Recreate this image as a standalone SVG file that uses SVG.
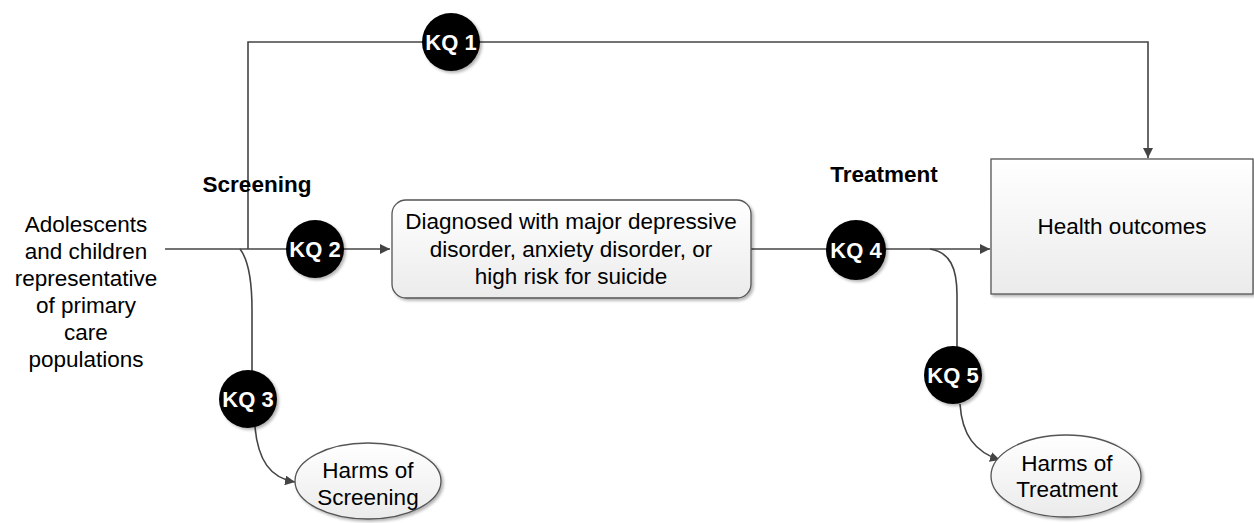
<svg xmlns="http://www.w3.org/2000/svg" width="1254" height="523" viewBox="0 0 1254 523">
<style>
  text { font-family: "Liberation Sans", Arial, sans-serif; fill: #000; }
  .t { font-size: 22.5px; text-anchor: middle; }
  .b { font-size: 22.5px; font-weight: bold; text-anchor: middle; }
  .kq { font-size: 22px; font-weight: bold; text-anchor: middle; fill: #fff; }
  .kqc { fill: #000; filter: url(#sh); }
  .box { stroke: #555; stroke-width: 1.3; fill: url(#g); filter: url(#sh); }
  .ell { stroke: #555; stroke-width: 1.3; fill: url(#g); filter: url(#sh); }
  .ln { fill: none; stroke: #444; stroke-width: 1.6; }
</style>
<defs>
  <linearGradient id="g" x1="0" y1="0" x2="0" y2="1">
    <stop offset="0" stop-color="#ffffff"/>
    <stop offset="1" stop-color="#ebebeb"/>
  </linearGradient>
  <filter id="sh" x="-20%" y="-20%" width="150%" height="150%">
    <feGaussianBlur in="SourceAlpha" stdDeviation="1.5"/>
    <feOffset dx="2" dy="2" result="o"/>
    <feComponentTransfer><feFuncA type="linear" slope="0.3"/></feComponentTransfer>
    <feMerge><feMergeNode/><feMergeNode in="SourceGraphic"/></feMerge>
  </filter>
  <marker id="ar" viewBox="0 0 10 10" refX="10" refY="5" markerWidth="10" markerHeight="10" markerUnits="userSpaceOnUse" orient="auto">
    <path d="M0,0 L10,5 L0,10 Z" fill="#444"/>
  </marker>
</defs>

<g id="connectors">
  <path class="ln" d="M165,249 H390" marker-end="url(#ar)"/>
  <path class="ln" d="M248,249 V42 H1148 V158" marker-end="url(#ar)"/>
  <path class="ln" d="M751,249 H990" marker-end="url(#ar)"/>
  <path class="ln" d="M240,249 C250,262 252,285 252,310 V372"/>
  <path class="ln" d="M255,427 C258,460 270,478 295,482" marker-end="url(#ar)"/>
  <path class="ln" d="M930,249 C950,252 957,268 957,295 V348"/>
  <path class="ln" d="M960,404 C962,435 975,452 1000,460" marker-end="url(#ar)"/>
</g>

<g id="population">
  <text class="t" x="86" y="232">Adolescents</text>
  <text class="t" x="86" y="259">and children</text>
  <text class="t" x="86" y="286">representative</text>
  <text class="t" x="86" y="313">of primary</text>
  <text class="t" x="86" y="340">care</text>
  <text class="t" x="86" y="367">populations</text>
</g>

<g id="screening-label"><text class="b" x="257" y="192">Screening</text></g>
<g id="treatment-label"><text class="b" x="884" y="182">Treatment</text></g>

<g id="diagnosed">
  <rect class="box" x="392" y="200" width="359" height="98" rx="14"/>
  <text class="t" x="571" y="229">Diagnosed with major depressive</text>
  <text class="t" x="571" y="257">disorder, anxiety disorder, or</text>
  <text class="t" x="571" y="284">high risk for suicide</text>
</g>

<g id="health-outcomes">
  <rect class="box" x="991" y="159" width="262" height="135"/>
  <text class="t" x="1122" y="234">Health outcomes</text>
</g>

<g id="harms-screening">
  <ellipse class="ell" cx="368" cy="481" rx="73" ry="38"/>
  <text class="t" x="368" y="478">Harms of</text>
  <text class="t" x="368" y="505">Screening</text>
</g>

<g id="harms-treatment">
  <ellipse class="ell" cx="1066" cy="476" rx="75" ry="41"/>
  <text class="t" x="1067" y="471">Harms of</text>
  <text class="t" x="1067" y="497">Treatment</text>
</g>

<g id="kq1"><circle class="kqc" cx="451" cy="42" r="29"/><text class="kq" x="451" y="50">KQ 1</text></g>
<g id="kq2"><circle class="kqc" cx="315" cy="249" r="29"/><text class="kq" x="315" y="257">KQ 2</text></g>
<g id="kq3"><circle class="kqc" cx="248" cy="399" r="29"/><text class="kq" x="248" y="407">KQ 3</text></g>
<g id="kq4"><circle class="kqc" cx="856" cy="250" r="30"/><text class="kq" x="856" y="258">KQ 4</text></g>
<g id="kq5"><circle class="kqc" cx="953" cy="375" r="29"/><text class="kq" x="953" y="383">KQ 5</text></g>
</svg>
